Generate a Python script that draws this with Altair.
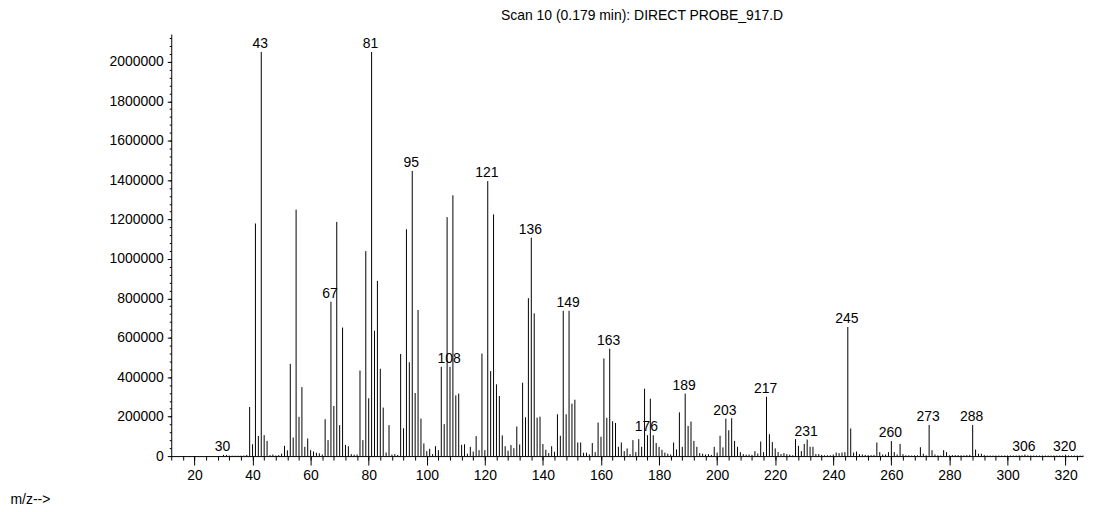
import altair as alt
import pandas as pd

# m/z values and intensities
mz = list(range(30, 331))
intensity = [
    6000, 6000, 3000, 2000, 2000, 2000, 2000, 3000, 6000, 249000,            # 30-39
    60000, 1180000, 102000, 2050000, 106000, 77000, 5000, 8000, 3000, 5000,   # 40-49
    12000, 52000, 29000, 468000, 94000, 1250000, 199000, 350000, 47000, 89000,  # 50-59
    30000, 23000, 17000, 14000, 8000, 187000, 81000, 783000, 254000, 1188000,   # 60-69
    157000, 652000, 57000, 50000, 10000, 7000, 8000, 434000, 81000, 1040000,    # 70-79
    293000, 2050000, 636000, 889000, 443000, 246000, 18000, 157000, 8000, 10000,  # 80-89
    6000, 518000, 141000, 1151000, 476000, 1446000, 320000, 741000, 190000, 64000,  # 90-99
    25000, 37000, 10000, 50000, 30000, 453000, 162000, 1212000, 453000, 1323000,  # 100-109
    308000, 317000, 57000, 60000, 12000, 47000, 23000, 101000, 30000, 520000,    # 110-119
    30000, 1395000, 431000, 1226000, 364000, 305000, 105000, 50000, 27000, 56000,  # 120-129
    40000, 150000, 59000, 372000, 197000, 801000, 1108000, 724000, 195000, 200000,  # 130-139
    61000, 32000, 15000, 50000, 22000, 212000, 103000, 737000, 212000, 737000,   # 140-149
    266000, 286000, 69000, 69000, 17000, 17000, 8000, 66000, 20000, 170000,      # 150-159
    98000, 495000, 194000, 545000, 177000, 168000, 47000, 69000, 25000, 39000,   # 160-169
    10000, 81000, 20000, 86000, 47000, 342000, 106000, 291000, 106000, 66000,    # 170-179
    47000, 32000, 18000, 12000, 8000, 69000, 34000, 222000, 47000, 317000,       # 180-189
    153000, 175000, 77000, 47000, 15000, 12000, 8000, 10000, 6000, 47000,        # 190-199
    18000, 103000, 44000, 190000, 131000, 192000, 77000, 47000, 20000, 10000,    # 200-209
    7000, 8000, 6000, 25000, 13000, 74000, 20000, 301000, 111000, 71000,         # 210-219
    39000, 20000, 10000, 15000, 10000, 7000, 4000, 86000, 52000, 25000,          # 220-229
    61000, 84000, 47000, 47000, 10000, 10000, 6000, 4000, 4000, 4000,            # 230-239
    8000, 18000, 15000, 18000, 20000, 655000, 140000, 18000, 23000, 10000,       # 240-249
    8000, 6000, 5000, 5000, 6000, 69000, 20000, 8000, 8000, 20000,               # 250-259
    76000, 20000, 8000, 62000, 10000, 4000, 4000, 3000, 4000, 4000,              # 260-269
    45000, 12000, 4000, 158000, 30000, 8000, 4000, 3000, 30000, 20000,           # 270-279
    4000, 5000, 5000, 5000, 4000, 4000, 5000, 6000, 158000, 33000,               # 280-289
    12000, 12000, 5000, 3000, 3000, 3000, 3000, 3000, 3000, 3000,                # 290-299
    3000, 3000, 3000, 3000, 4000, 4000, 8000, 4000, 3000, 3000,                  # 300-309
    3000, 3000, 3000, 3000, 3000, 3000, 3000, 3000, 3000, 3000,                  # 310-319
    7000, 3000, 3000, 3000, 3000, 3000, 3000, 3000, 3000, 3000, 3000,            # 320-330
]
labelled_mz = [30, 43, 67, 81, 95, 108, 121, 136, 149, 163, 176, 189, 203,
               217, 231, 245, 260, 273, 288, 306, 320]

title_text = "Scan 10 (0.179 min): DIRECT PROBE_917.D"
x_title = "m/z-->"
x_major = list(range(20, 321, 20))
x_minor = list(range(12, 327, 4))
y_major = list(range(0, 2000001, 200000))
y_minor = list(range(0, 2140001, 40000))

FONT = "Liberation Sans"

df = pd.DataFrame({"mz": mz, "intensity": intensity})
df = df[df["mz"] <= 326]
df["base"] = 0
lab = df[df["mz"].isin(labelled_mz)].copy()
lab["text"] = lab["mz"].astype(str)

xscale = alt.Scale(domain=[12, 326], nice=False, zero=False)
yscale = alt.Scale(domain=[0, 2141000], nice=False, zero=True)

bars = alt.Chart(df).mark_rule(color="black", strokeWidth=1).encode(
    x=alt.X("mz:Q", scale=xscale, axis=alt.Axis(
        values=x_major, orient="bottom", tickSize=9, labelPadding=4,
        labelFont=FONT, labelFontSize=14, labelColor="black", format="d",
        domainColor="black", tickColor="black", grid=False, labelOverlap=False,
        title=x_title, titleAnchor="start", titleX=-162, titleY=48,
        titleAlign="left", titleBaseline="alphabetic", titleFont=FONT,
        titleFontSize=14, titleFontWeight="normal", titleColor="black")),
    y=alt.Y("intensity:Q", scale=yscale, axis=alt.Axis(
        values=y_major, orient="left", tickSize=4, labelPadding=4,
        labelFont=FONT, labelFontSize=14, labelColor="black", format="d",
        domainColor="black", tickColor="black", grid=False, labelOverlap=False,
        title=None)),
    y2="base:Q",
)

labels = alt.Chart(lab).mark_text(
    font=FONT, fontSize=14, color="black", align="center",
    baseline="alphabetic", dy=-4, dx=-1,
).encode(
    x=alt.X("mz:Q", scale=xscale, axis=alt.Axis(
        values=x_minor, orient="bottom", tickSize=4, labels=False,
        domain=False, tickColor="black", grid=False, title=None)),
    y=alt.Y("intensity:Q", scale=yscale, axis=alt.Axis(
        values=y_minor, orient="left", tickSize=2, labels=False,
        domain=False, tickColor="black", grid=False, title=None)),
    text="text:N",
)

chart = alt.layer(bars, labels).resolve_axis(
    x="independent", y="independent"
).properties(
    width=916,
    height=424,
    padding={"left": 2, "top": 0, "right": 2, "bottom": 0},
    title=alt.TitleParams(title_text, font=FONT, fontSize=14,
                          fontWeight="normal", color="black",
                          anchor="middle", dx=15, offset=11),
).configure_view(stroke=None)

chart.save("out.html", embed_options={"renderer": "svg", "actions": False})
